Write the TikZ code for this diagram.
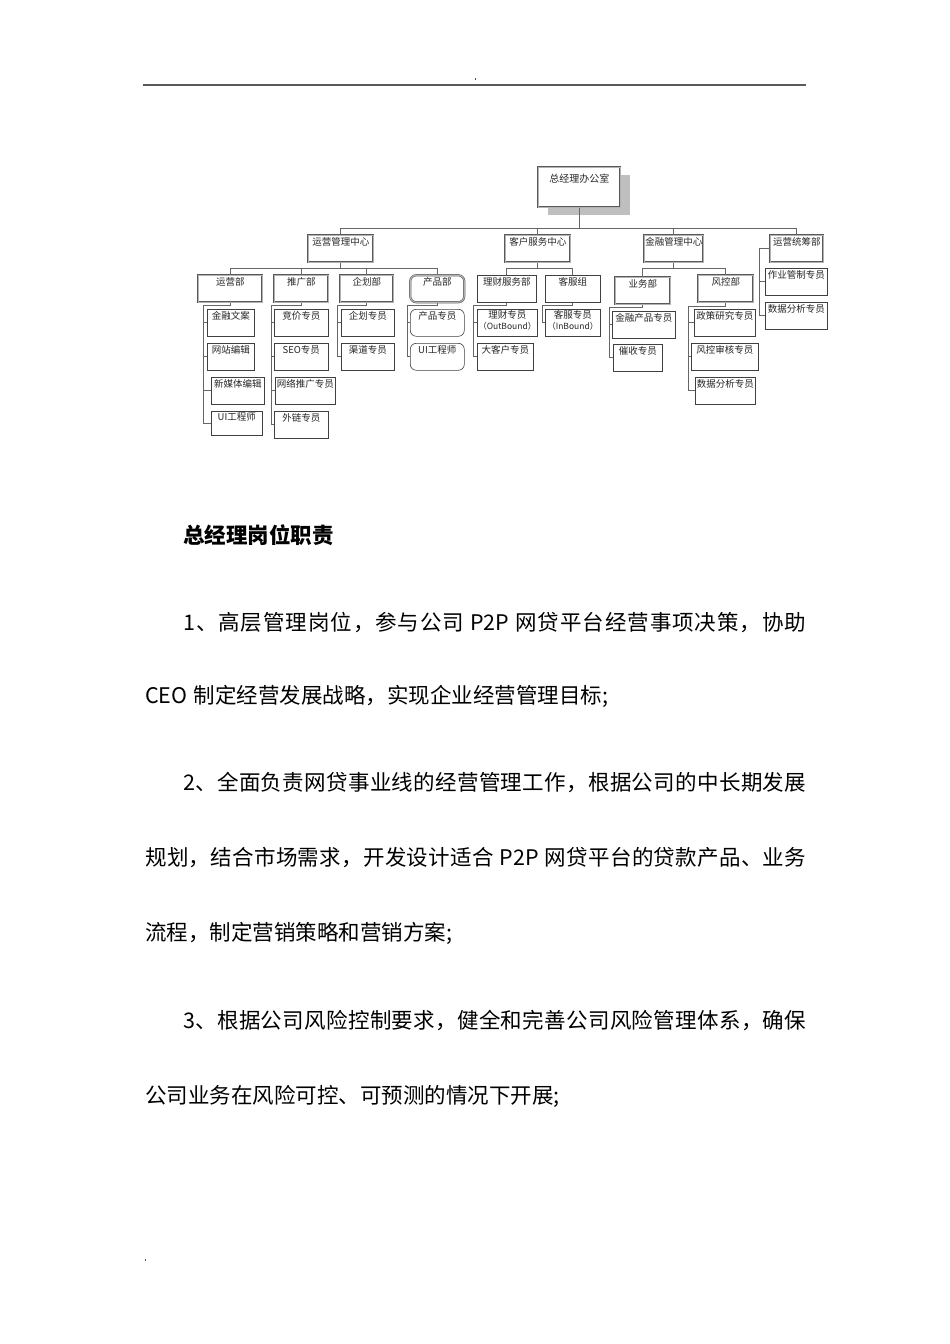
\documentclass[tikz,border=0pt]{standalone}
\usepackage{fontspec}
\setmainfont{Noto Sans CJK SC}
\usetikzlibrary{shadows}
\newcount\cjkcode
\cjkcode="4E00
\loop
  \XeTeXcharclass\cjkcode=1
  \advance\cjkcode by 1
\ifnum\cjkcode<"A000 \repeat
\XeTeXcharclass"3001=1
\XeTeXcharclass"FF0C=1
\XeTeXinterchartokenstate=1
\XeTeXinterchartoks 1 1 = {\hskip 0pt plus 1pt}
\XeTeXinterchartoks 0 1 = {\hskip 0pt plus 1pt}
\XeTeXinterchartoks 1 0 = {\hskip 0pt plus 1pt}
\newcommand{\gap}{\hspace{6pt}}

\begin{document}
\begin{tikzpicture}[x=1pt, y=-1pt,
    box/.style={draw=black!75, line width=0.6pt, fill=white, anchor=north west,
      inner xsep=1pt, inner ysep=2pt, text height=7pt, text depth=13pt,
      minimum height=27pt, font=\fontsize{9.5}{11}\selectfont, text=black!85},
    twoline/.style={box, align=center, text height=18pt, text depth=4pt},
    dept/.style={box, draw=black!65, double=black!30, double distance=1.1pt, line width=0.5pt},
    pdept/.style={dept, rounded corners=6pt},
    prole/.style={box, rounded corners=6pt},
    boss/.style={dept, text height=11pt, text depth=20pt, minimum height=40pt,
      font=\fontsize{10}{12}\selectfont,
      drop shadow={shadow xshift=10pt, shadow yshift=-8pt, fill=black!25, opacity=1}},
    link/.style={draw=black!60, line width=0.8pt},
    para/.style={anchor=base west, inner sep=0pt, font=\fontsize{21.5}{26}\selectfont, text=black}
  ]
  \fill[white] (0,0) rectangle (950,1344);
  \draw[black!65, line width=2pt] (143,85) -- (806,85);
  \fill[black!70] (474.5,78) rectangle (476,79.5);
  \fill[black!70] (144.5,1259) rectangle (146,1260.5);

  \coordinate (busa) at (0,228);
  \coordinate (busb) at (0,268);
  \coordinate (spa) at (203,305);
  \coordinate (spb) at (271,305);
  \coordinate (spc) at (337,305);
  \coordinate (spd) at (407,305);
  \coordinate (spe) at (473,305);
  \coordinate (spg) at (542,305);
  \coordinate (sph) at (609,307);
  \coordinate (spi) at (688,306);
  \coordinate (spf) at (759,0);

  \node[boss, minimum width=82pt] (zjl) at (538,167) {总经理办公室};

  \node[dept, minimum width=65pt] (yyzx) at (308,235) {运营管理中心};
  \node[dept, minimum width=65pt] (khzx) at (505,235) {客户服务中心};
  \node[dept, minimum width=59pt] (jrzx) at (644,235) {金融管理中心};
  \node[dept, minimum width=53pt] (yytc) at (770,235) {运营统筹部};

  \node[dept, minimum width=64pt] (yyb) at (198,275) {运营部};
  \node[dept, minimum width=54pt] (tgb) at (274,275) {推广部};
  \node[dept, minimum width=53pt] (qhb) at (340,275) {企划部};
  \node[pdept, minimum width=54pt] (cpb) at (410,275) {产品部};
  \node[box, minimum width=59pt] (lcfw) at (477,275) {理财服务部};
  \node[box, minimum width=55pt] (kfz) at (545,275) {客服组};
  \node[dept, minimum width=55pt] (ywb) at (615,277) {业务部};
  \node[dept, minimum width=55pt] (fkb) at (698,275) {风控部};

  \node[box, minimum width=47pt] (jrwa) at (207,309) {金融文案};
  \node[box, minimum width=47pt] (wzbj) at (207,343) {网站编辑};
  \node[box, minimum width=53pt] (xmt) at (211,377) {新媒体编辑};
  \node[box, minimum width=51pt, minimum height=22pt] (uia) at (211,411) {UI工程师};

  \node[box, minimum width=54pt] (jjzy) at (274,309) {竞价专员};
  \node[box, minimum width=54pt] (seo) at (274,343) {SEO专员};
  \node[box, minimum width=60pt] (wltg) at (275,377) {网络推广专员};
  \node[box, minimum width=54pt] (wlzy) at (274,411) {外链专员};

  \node[box, minimum width=53pt] (qhzy) at (341,309) {企划专员};
  \node[box, minimum width=53pt] (qdzy) at (341,343) {渠道专员};

  \node[prole, minimum width=54pt] (cpzy) at (410,309) {产品专员};
  \node[prole, minimum width=54pt] (uib) at (410,343) {UI工程师};

  \node[twoline, minimum width=59pt] (lczy) at (477,309) {理财专员\\{\fontsize{8.5}{10}\selectfont （OutBound）}};
  \node[box, minimum width=56pt] (dkh) at (477,343) {大客户专员};
  \node[twoline, minimum width=55pt] (kfzy) at (545,309) {客服专员\\{\fontsize{8.5}{10}\selectfont （InBound）}};

  \node[box, minimum width=63pt] (jrcp) at (612,311) {金融产品专员};
  \node[box, minimum width=49pt] (cszy) at (613,344) {催收专员};

  \node[box, minimum width=61pt] (zcyj) at (694,309) {政策研究专员};
  \node[box, minimum width=67pt] (fksh) at (691,343) {风控审核专员};
  \node[box, minimum width=60pt] (sjfxa) at (695,377) {数据分析专员};

  \node[box, minimum width=62pt] (zygz) at (765,268) {作业管制专员};
  \node[box, minimum width=62pt] (sjfxb) at (765,302) {数据分析专员};

  \foreach \n in {yyzx,khzx,jrzx,yytc}
    \draw[link] (zjl.south) -- (zjl.south |- busa) -| (\n.north);
  \foreach \n in {yyb,tgb,qhb,cpb}
    \draw[link] (yyzx.south) -- (yyzx.south |- busb) -| (\n.north);
  \foreach \n in {lcfw,kfz}
    \draw[link] (khzx.south) -- (khzx.south |- busb) -| (\n.north);
  \foreach \n in {ywb,fkb}
    \draw[link] (jrzx.south) -- (jrzx.south |- busb) -| (\n.north);

  \draw[link] (yyb.south) |- (spa);
  \foreach \n in {jrwa,wzbj,xmt,uia} \draw[link] (spa) |- (\n.west);
  \draw[link] (tgb.south) |- (spb);
  \foreach \n in {jjzy,seo,wltg,wlzy} \draw[link] (spb) |- (\n.west);
  \draw[link] (qhb.south) |- (spc);
  \foreach \n in {qhzy,qdzy} \draw[link] (spc) |- (\n.west);
  \draw[link] (cpb.south) |- (spd);
  \foreach \n in {cpzy,uib} \draw[link] (spd) |- (\n.west);
  \draw[link] (lcfw.south) |- (spe);
  \foreach \n in {lczy,dkh} \draw[link] (spe) |- (\n.west);
  \draw[link] (kfz.south) |- (spg) |- (kfzy.west);
  \draw[link] (ywb.south) |- (sph);
  \foreach \n in {jrcp,cszy} \draw[link] (sph) |- (\n.west);
  \draw[link] (fkb.south) |- (spi);
  \foreach \n in {zcyj,fksh,sjfxa} \draw[link] (spi) |- (\n.west);
  \foreach \n in {zygz,sjfxb}
    \draw[link] (yytc.west) -- (yytc.west -| spf) |- (\n.west);

  \node[para, font=\fontsize{21.5}{26}\selectfont\bfseries] (ttl) at (183,543) {总经理岗位职责};
  \node[para] (la) at (183,630) {\makebox[623pt][s]{1、高层管理岗位，参与公司\gap P2P\gap 网贷平台经营事项决策，协助}};
  \node[para] (lb) at (145,703) {CEO\gap 制定经营发展战略，实现企业经营管理目标;};
  \node[para] (lc) at (183,790) {\makebox[623pt][s]{2、全面负责网贷事业线的经营管理工作，根据公司的中长期发展}};
  \node[para] (ld) at (145,865) {\makebox[661pt][s]{规划，结合市场需求，开发设计适合\gap P2P\gap 网贷平台的贷款产品、业务}};
  \node[para] (le) at (145,940) {流程，制定营销策略和营销方案;};
  \node[para] (lf) at (183,1028) {\makebox[623pt][s]{3、根据公司风险控制要求，健全和完善公司风险管理体系，确保}};
  \node[para] (lg) at (145,1103) {公司业务在风险可控、可预测的情况下开展;};
\end{tikzpicture}
\end{document}
